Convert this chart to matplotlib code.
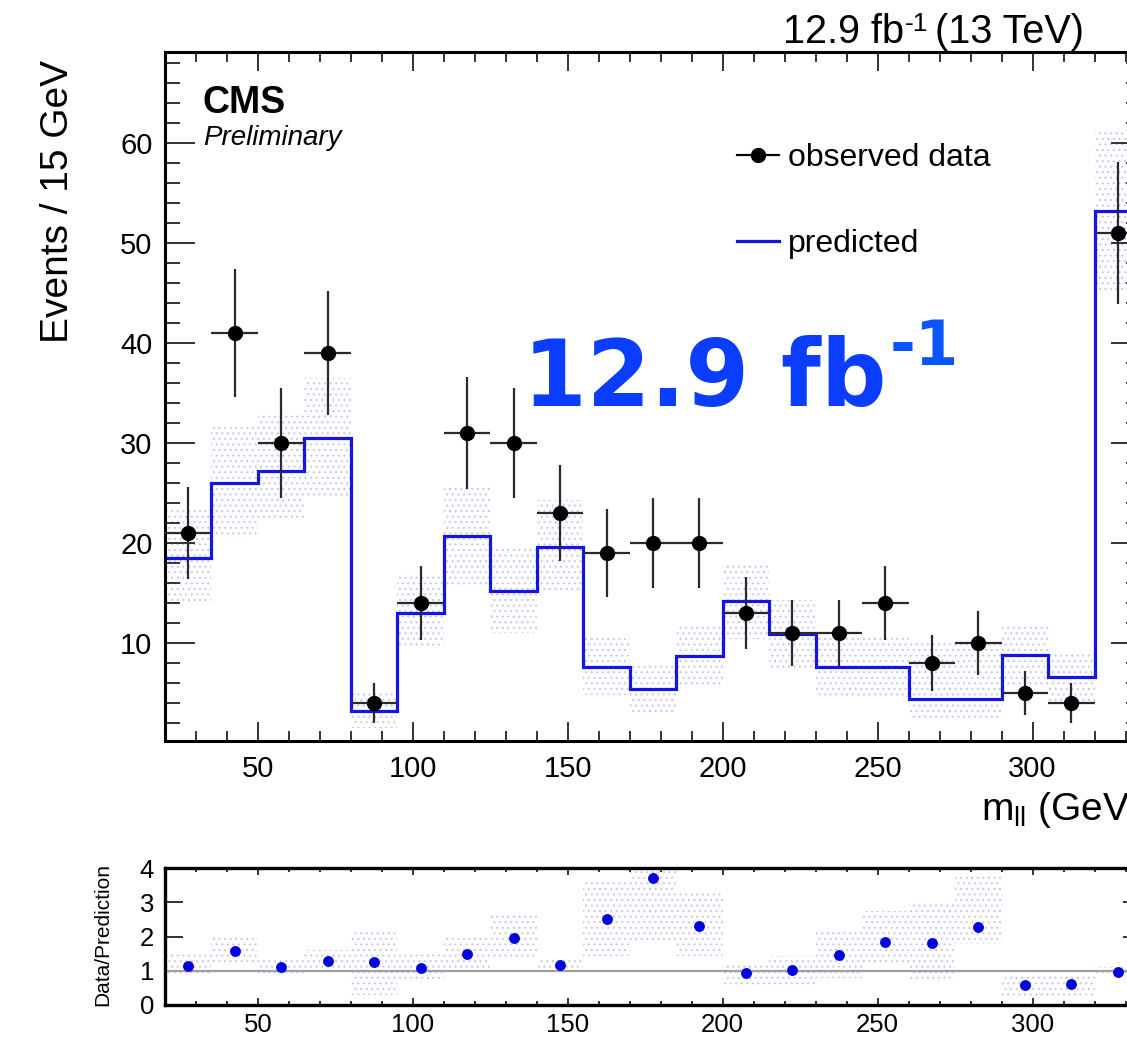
import numpy as np
import matplotlib
matplotlib.use("Agg")
import matplotlib.pyplot as plt
from matplotlib.lines import Line2D
from matplotlib.ticker import MultipleLocator

plt.rcParams["font.family"] = ["Liberation Sans", "DejaVu Sans"]
plt.rcParams["mathtext.fontset"] = "custom"
plt.rcParams["mathtext.rm"] = "Liberation Sans"
plt.rcParams["mathtext.it"] = "Liberation Sans:italic"
plt.rcParams["mathtext.bf"] = "Liberation Sans:bold"
plt.rcParams["hatch.linewidth"] = 0.8
plt.rcParams["hatch.color"] = "#c6c8f6"

# ---- data -------------------------------------------------------------
bin_edges = np.arange(20, 336, 15)            # m_ll bins, 15 GeV wide
observed = [21, 41, 30, 39, 4, 14, 31, 30, 23, 19, 20, 20, 13, 11, 11, 14, 8, 10, 5, 4, 51]
observed_err = [4.6, 6.4, 5.5, 6.2, 2.0, 3.7, 5.6, 5.5, 4.8, 4.4, 4.5, 4.5,
                3.6, 3.3, 3.3, 3.7, 2.8, 3.2, 2.2, 2.0, 7.1]
predicted = [18.5, 26.0, 27.2, 30.5, 3.2, 13.0, 20.7, 15.2, 19.6, 7.6, 5.4, 8.7,
             14.2, 10.9, 7.6, 7.6, 4.4, 4.4, 8.8, 6.6, 53.2]
pred_band_lo = [14.1, 20.5, 22.5, 24.6, 1.5, 9.5, 15.8, 11.0, 15.3, 4.8, 3.1, 5.6,
                10.4, 7.5, 4.6, 4.6, 2.3, 2.3, 5.6, 4.2, 45.0]
pred_band_hi = [23.3, 31.6, 32.8, 36.5, 5.3, 17.0, 25.6, 19.5, 24.3, 10.5, 7.7, 11.8,
                18.0, 14.3, 10.6, 10.6, 10.1, 10.1, 11.8, 9.2, 61.3]

ratio = [1.14, 1.58, 1.10, 1.28, 1.25, 1.08, 1.50, 1.97, 1.17, 2.50, 3.70, 2.30,
         0.92, 1.01, 1.45, 1.84, 1.82, 2.27, 0.57, 0.61, 0.96]
ratio_band_lo = [0.85, 1.25, 0.85, 0.95, 0.30, 0.66, 1.04, 1.34, 0.95, 1.43, 1.90, 1.43,
                 0.54, 0.60, 0.80, 1.19, 0.70, 1.79, 0.25, 0.25, 0.85]
ratio_band_hi = [1.49, 2.00, 1.34, 1.62, 2.19, 1.49, 1.97, 2.64, 1.40, 3.64, 4.00, 3.34,
                 1.25, 1.43, 2.15, 2.75, 2.99, 3.79, 0.90, 0.90, 1.10]

bin_left = bin_edges[:-1]
bin_width = np.diff(bin_edges)
centers = bin_left + bin_width / 2

BLUE = "#1414e6"
BAND = "#c6c8f6"
W, H = 1127, 1041

fig = plt.figure(figsize=(W / 100, H / 100), dpi=100)
ax = fig.add_axes([165 / W, 1 - 741 / H, (1141 - 165) / W, (741 - 52) / H])
rax = fig.add_axes([165 / W, 1 - 1005 / H, (1141 - 165) / W, (1005 - 868) / H])

# ---- main panel ---------------------------------------------------------
ax.bar(bin_left, np.subtract(pred_band_hi, pred_band_lo), bottom=pred_band_lo,
       width=bin_width, align="edge", facecolor="none", edgecolor=BAND,
       linewidth=0, hatch="...", zorder=1)
ax.stairs(predicted, bin_edges, baseline=None, color=BLUE, linewidth=2.3, zorder=2)
ax.errorbar(centers, observed, yerr=observed_err, xerr=bin_width / 2, fmt="o",
            color="black", ecolor="#2a2a2a", elinewidth=1.6, markersize=10,
            capsize=0, zorder=3)

ax.set_xlim(20, 335)
ax.set_ylim(0.17, 69.07)
ax.xaxis.set_major_locator(MultipleLocator(50))
ax.xaxis.set_minor_locator(MultipleLocator(10))
ax.yaxis.set_major_locator(MultipleLocator(10))
ax.yaxis.set_minor_locator(MultipleLocator(2))
ax.set_yticks([10, 20, 30, 40, 50, 60])
ax.tick_params(which="both", direction="in", top=True, right=True, width=1.2,
               color="#111111")
ax.tick_params(axis="y", which="major", length=21.5, pad=9, labelsize=21)
ax.tick_params(axis="y", which="minor", length=11)
ax.tick_params(axis="x", which="major", length=14, pad=10, labelsize=21)
ax.tick_params(axis="x", which="minor", length=7)
for s in ax.spines.values():
    s.set_linewidth(2.2)

handles = [Line2D([], [], color="black", marker="o", markersize=10, linewidth=1.6),
           Line2D([], [], color=BLUE, linewidth=2.3)]
fig.legend(handles, ["observed data", "predicted"], loc="center left",
           bbox_to_anchor=(737 / W, 1 - 201 / H), frameon=False, fontsize=23,
           handlelength=1.3, handletextpad=0.3, labelspacing=1.75,
           borderpad=0, borderaxespad=0)

fig.text(202 / W, 1 - 113 / H, "CMS", fontsize=27, fontweight="bold", va="baseline")
fig.text(203 / W, 1 - 145 / H, "Preliminary", fontsize=20, style="italic", va="baseline")

# luminosity / energy header
lumi = fig.text(783 / W, 1 - 43 / H, "12.9 fb", fontsize=28.5, va="baseline")
lumi_exp = ax.annotate("-1", xy=(1, 1), xycoords=lumi, xytext=(0.5, 1),
                       textcoords="offset points", fontsize=19, ha="left", va="top",
                       annotation_clip=False)
ax.annotate("(13 TeV)", xy=(1, 0), xycoords=(lumi_exp, lumi), xytext=(5, 0),
            textcoords="offset points", fontsize=28.5, ha="left", va="bottom",
            annotation_clip=False)

fig.text(58 / W, 1 - 60 / H, "Events / 15 GeV", fontsize=28, rotation=90,
         ha="center", va="top")
fig.text(1141 / W, 1 - 820 / H, r"m$_{\mathrm{ll}}$ (GeV)", fontsize=28,
         ha="right", va="baseline")

big = fig.text(523 / W, 1 - 406 / H, "12.9 fb", fontsize=66, fontweight="bold",
               family="DejaVu Sans", color="#0b3dff", va="baseline")
ax.annotate("-1", xy=(1, 1), xycoords=big, xytext=(2, 12), textcoords="offset points",
            fontsize=45, fontweight="bold", family="DejaVu Sans", color="#0a55ff",
            ha="left", va="top", annotation_clip=False)

# ---- ratio panel ----------------------------------------------------------
rax.bar(bin_left, np.subtract(ratio_band_hi, ratio_band_lo), bottom=ratio_band_lo,
        width=bin_width, align="edge", facecolor="none", edgecolor=BAND,
        linewidth=0, hatch="...", zorder=1)
rax.axhline(1.0, color="#a0a0a0", linewidth=1.6, zorder=2)
rax.plot(centers, ratio, "o", color="#0000dd", markersize=6.8, zorder=3)
rax.set_xlim(20, 335)
rax.set_ylim(0, 4)
rax.set_yticks([0, 1, 2, 3, 4])
rax.xaxis.set_major_locator(MultipleLocator(50))
rax.xaxis.set_minor_locator(MultipleLocator(10))
rax.tick_params(which="both", direction="in", top=True, right=True, width=1.2,
                color="#111111")
rax.tick_params(axis="y", which="major", length=13, pad=8, labelsize=18.5)
rax.tick_params(axis="x", which="major", length=5, pad=6, labelsize=18.5)
rax.tick_params(axis="x", which="minor", length=3)
for s in rax.spines.values():
    s.set_linewidth(2.4)
fig.text(103 / W, 1 - 934 / H, "Data/Prediction", fontsize=15, rotation=90,
         ha="center", va="center")

fig.savefig("out.png", dpi=100)
